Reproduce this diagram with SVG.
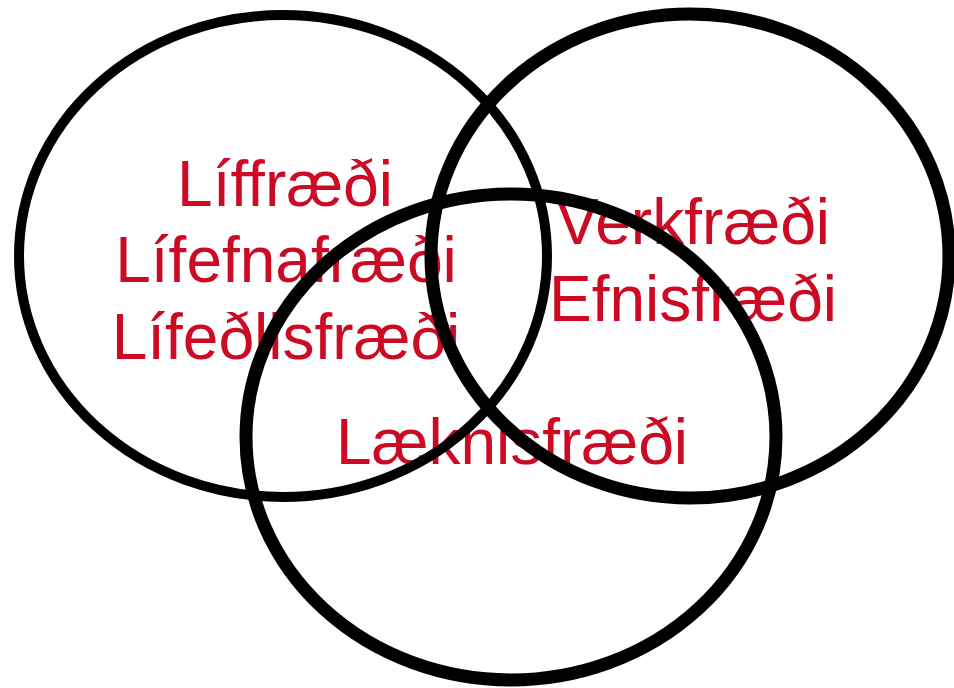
<svg xmlns="http://www.w3.org/2000/svg" width="954" height="688" viewBox="0 0 954 688">
<style>
.lbl{font-family:"Liberation Sans",Arial,sans-serif;font-size:64px;fill:#CC0A24;text-anchor:middle}
.c{fill:none;stroke:#000}
</style>
<rect width="954" height="688" fill="#fff"/>
<g id="labels">
<g id="bio"><text class="lbl" x="285" y="206">Líffræði</text><text class="lbl" x="286" y="282">Lífefnafræði</text><text class="lbl" x="286" y="359">Lífeðlisfræði</text></g>
<g id="eng"><text class="lbl" x="693" y="244">Verkfræði</text><text class="lbl" x="693" y="321">Efnisfræði</text></g>
<g id="med"><text class="lbl" x="512" y="464">Læknisfræði</text></g>
</g>
<g id="connectors">
<ellipse id="left" class="c" cx="283" cy="256" rx="264" ry="241" stroke-width="10"/>
<ellipse id="right" class="c" cx="690" cy="256" rx="259" ry="242" stroke-width="13"/>
<ellipse id="bottom" class="c" cx="511" cy="437" rx="265" ry="243" stroke-width="13"/>
</g>
</svg>
